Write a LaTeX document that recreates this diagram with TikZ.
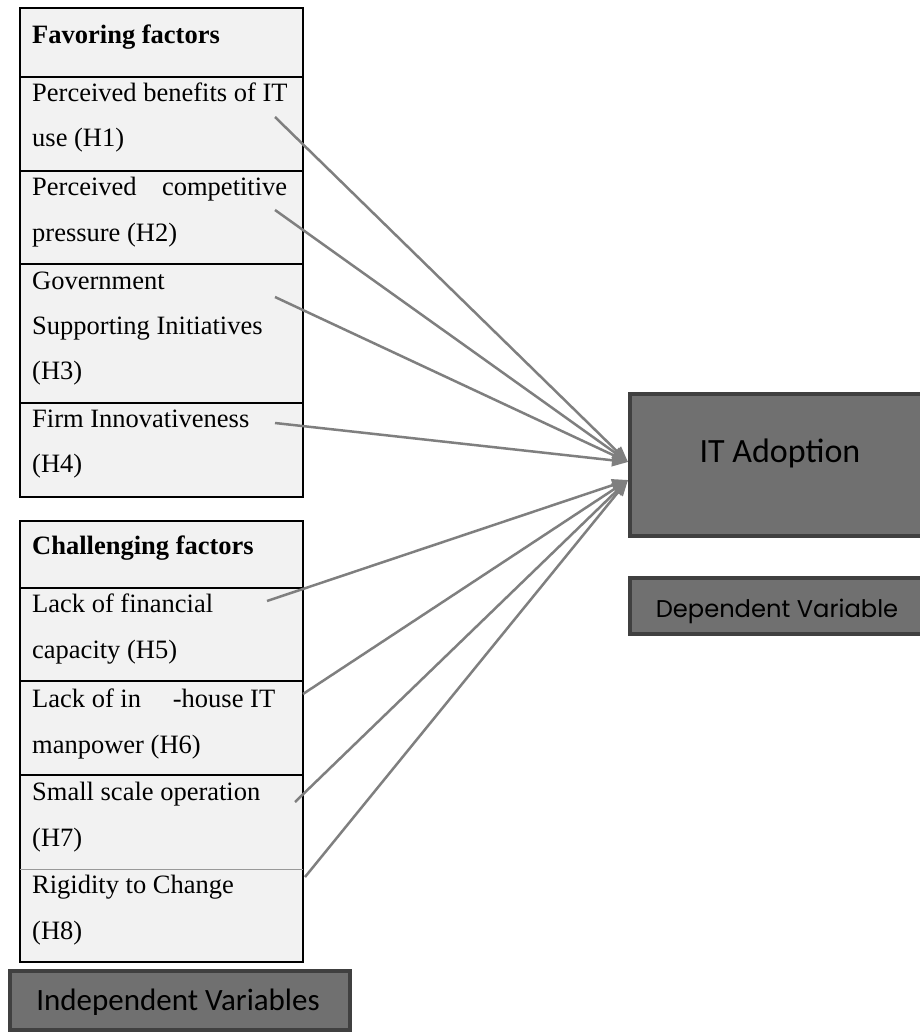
\documentclass[tikz,border=0pt]{standalone}
\usepackage{fontspec}
\setmainfont{Liberation Serif}
\newfontfamily\calib{Carlito}
\newfontfamily\popp{Poppins}
\usetikzlibrary{arrows.meta}
\definecolor{boxfill}{HTML}{F2F2F2}
\definecolor{darkfill}{HTML}{707070}
\definecolor{darkedge}{HTML}{404040}
\definecolor{arrowgray}{HTML}{7F7F7F}
\begin{document}
\begin{tikzpicture}[x=1pt,y=-1pt,
  rowbox/.style={fill=boxfill, draw=none, inner sep=0pt, outer sep=0pt, anchor=north west, minimum width=283pt},
  txt/.style={anchor=base west, inner sep=0pt, font=\fontsize{26.5}{30}\selectfont},
  darkbox/.style={fill=darkfill, draw=darkedge, line width=4pt, anchor=north west, inner sep=0pt, outer sep=0pt},
  conn/.style={draw=arrowgray, line width=2.5pt, -{Triangle[length=16pt,width=12pt]}},
  divider/.style={draw=black, line width=1.2pt},
]
\useasboundingbox (0,0) rectangle (919,1032);
\fill[white] (0,0) rectangle (919,1032);

% ---- favoring factors box
\node[rowbox, minimum height=69pt] (fh) at (20,8) {};
\node[rowbox, minimum height=94pt] (r1) at (20,77) {};
\node[rowbox, minimum height=93pt] (r2) at (20,171) {};
\node[rowbox, minimum height=139pt] (r3) at (20,264) {};
\node[rowbox, minimum height=94pt] (r4) at (20,403) {};
\draw[divider] (fh.north west) rectangle (r4.south east);
\draw[divider] (r1.north west) -- (r1.north east);
\draw[divider] (r2.north west) -- (r2.north east);
\draw[divider] (r3.north west) -- (r3.north east);
\draw[divider] (r4.north west) -- (r4.north east);

\node[txt, font=\fontsize{26.5}{30}\selectfont\bfseries] (tfh) at (32,44) {Favoring factors};
\node[txt] (t1a) at (32,102) {Perceived benefits of IT};
\node[txt] (t1b) at (32,147) {use (H1)};
\node[txt] (t2a) at (32,196) {\makebox[255pt][l]{Perceived\hfill competitive}};
\node[txt] (t2b) at (32,241) {pressure (H2)};
\node[txt] (t3a) at (32,289) {Government};
\node[txt] (t3b) at (32,334) {Supporting Initiatives};
\node[txt] (t3c) at (32,379) {(H3)};
\node[txt] (t4a) at (32,427) {Firm Innovativeness};
\node[txt] (t4b) at (32,472) {(H4)};

% ---- challenging factors box
\node[rowbox, minimum height=67pt] (ch) at (20,521) {};
\node[rowbox, minimum height=93pt] (r5) at (20,588) {};
\node[rowbox, minimum height=94pt] (r6) at (20,681) {};
\node[rowbox, minimum height=94pt] (r7) at (20,775) {};
\node[rowbox, minimum height=93pt] (r8) at (20,869) {};
\draw[divider] (ch.north west) rectangle (r8.south east);
\draw[divider] (r5.north west) -- (r5.north east);
\draw[divider] (r6.north west) -- (r6.north east);
\draw[divider] (r7.north west) -- (r7.north east);
\draw[draw=gray!80, line width=0.8pt] (r8.north west) -- (r8.north east);

\node[txt, font=\fontsize{26.5}{30}\selectfont\bfseries] (tch) at (32,554) {Challenging factors};
\node[txt] (t5a) at (32,612) {Lack of financial};
\node[txt] (t5b) at (32,658) {capacity (H5)};
\node[txt] (t6a) at (32,707) {\makebox[243pt][l]{Lack of in\hfill-house IT}};
\node[txt] (t6b) at (32,753) {manpower (H6)};
\node[txt] (t7a) at (32,800) {Small scale operation};
\node[txt] (t7b) at (32,846) {(H7)};
\node[txt] (t8a) at (32,893) {Rigidity to Change};
\node[txt] (t8b) at (32,939) {(H8)};

% ---- dark boxes
\node[darkbox, minimum width=300pt, minimum height=142pt] (ita) at (630,394) {};
\node[anchor=base, inner sep=0pt, font=\calib\fontsize{34}{40}\selectfont] (itat) at (780,462) {IT Adoption};
\node[darkbox, minimum width=300pt, minimum height=56pt] (dep) at (630,578) {};
\node[anchor=base, inner sep=0pt, font=\popp\fontsize{24.2}{28}\selectfont] (dept) at (777,617) {Dependent Variable};
\node[darkbox, minimum width=340pt, minimum height=59pt] (ind) at (10,971) {};
\node[anchor=base, inner sep=0pt, font=\calib\fontsize{31}{36}\selectfont] (indt) at (178,1010) {Independent Variables};

% ---- connectors
\coordinate (s1) at (275,117);
\coordinate (s2) at (275,210);
\coordinate (s3) at (275,297);
\coordinate (s4) at (275,423);
\coordinate (s5) at (267,601);
\coordinate (s6) at (303,694);
\coordinate (s7) at (295,802);
\coordinate (s8) at (305,877);
\coordinate (tipA) at ([xshift=-2pt,yshift=3pt]ita.west);
\coordinate (tipB) at ([xshift=-2pt,yshift=-15pt]ita.west);
\foreach \s in {s1,s2,s3,s4} \draw[conn] (\s) -- (tipA);
\foreach \s in {s5,s6,s7,s8} \draw[conn] (\s) -- (tipB);
\end{tikzpicture}
\end{document}
